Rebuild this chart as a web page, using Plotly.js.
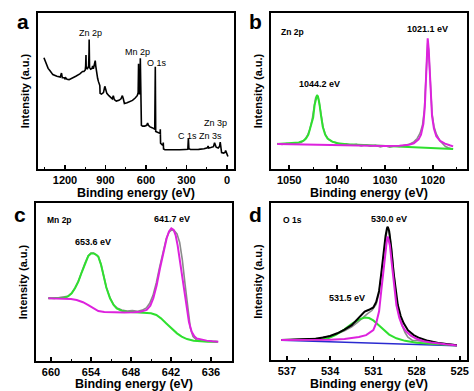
<!DOCTYPE html>
<html>
<head>
<meta charset="utf-8">
<script src="https://cdn.plot.ly/plotly-3.0.1.min.js"></script>
<style>html,body{margin:0;padding:0;background:#fff;}#chart{width:474px;height:391px;}</style>
</head>
<body>
<div id="chart"></div>
<script>
// ---- Panel a: survey spectrum ----
var surveyBE = [1356,1340,1325,1311,1290,1260,1235,1226,1220,1205,1200,1195,1185,1170,1150,1120,1090,1070,1060,1050,1047,1044.5,1043,1035,1025,1022,1021,1020,1018,1010,1000,995,990,985,980,976,972,965,958,952,946,942,940,930,915,905,898,890,875,860,850,842,835,820,800,785,775,768,760,740,720,700,680,665,658,655,653,648,644,642,640,638,634,625,610,595,588,582,570,555,545,535,531,528,515,500,496,494,492,480,474,472,470,460,430,400,350,310,290,286,282,270,240,210,170,145,140,135,120,100,92,88,80,65,55,50,46,40,25,15,10,6,0,-7];
var surveyI  = [71.3,67,64.5,63,60.5,59.5,59,61.5,58.5,58.5,57.8,58.5,57.5,57.3,58,59.5,61,62.5,62.5,63.5,66,73,65,64,66,75,83,75,65,64,64.5,66,64.2,66,68,69.5,66,61,58,56,55,53.5,48.5,48,49,53,51,48.5,47,45.5,45,47,44.5,43.5,44,45,47,45,42,42.5,43,44,45.5,47,49,67.5,49,48,50,71,48,45,28,27.5,27.5,28,29.5,28,27,26.5,26,25.5,65.6,24,23.5,23,22.8,25.5,16.5,15.5,15.2,17,12.8,12.3,12.2,12.2,12.3,12.5,12.6,19.7,13,12.5,12.5,12.6,13,13.6,14.8,13.5,13.8,14.3,16.8,15.2,14,13.5,14.5,17.3,13,10.5,10.2,10.6,11.8,10.5,9,8];

// ---- Panel b: Zn 2p ----
var znDataBE = [1052.5,1051.5,1050.5,1049.5,1048.5,1047.5,1046.8,1046.2,1045.7,1045.2,1044.8,1044.5,1044.2,1043.9,1043.6,1043.3,1042.9,1042.4,1041.8,1041,1040,1039,1038,1037,1036,1035,1034,1033,1032,1031,1030,1029,1028,1027,1026,1025,1024,1023.3,1022.7,1022.2,1021.8,1021.5,1021.3,1021.1,1020.9,1020.7,1020.5,1020.2,1019.8,1019.3,1018.6,1018,1017.4,1016.8,1016.2,1015.8];
var znDataI  = [16.3,15.7,16.4,15.9,16.6,17.0,18.6,21.5,25.5,32,40,45.5,47,45,40,33,26.5,21.8,19,17.4,16.8,15.6,16.2,15.3,15.9,14.8,15.5,14.6,15.2,14.2,14.9,14.0,14.7,14.5,15.4,15.8,17.4,19.6,23,28,38,54,72,81,76,63,49,36,27.5,22.5,18.3,16.0,14.4,13.6,13.0,12.7];
var zn12BE = [1052.5,1050,1048,1047,1046.5,1046,1045.5,1045,1044.7,1044.4,1044.2,1044,1043.7,1043.4,1043,1042.5,1042,1041,1040,1038,1035,1030,1025,1022,1020,1018,1015.8];
var zn12I  = [16.0,16.3,17.0,18.2,19.5,22,27,33,41,46.5,47.4,46.5,42,35,27,22,19.5,17.5,16.5,15.8,15.4,14.8,14.1,13.7,13.4,13.1,12.8];
var zn32BE = [1052.5,1048,1044,1040,1035,1030,1027,1025,1024,1023,1022.5,1022,1021.7,1021.5,1021.3,1021.1,1020.9,1020.7,1020.5,1020.2,1019.8,1019.3,1018.5,1017.5,1016.5,1015.8];
var zn32I  = [16.0,15.7,15.5,15.3,15.0,14.8,14.9,15.5,16.5,19,22,29,40,55,75,83.8,77,62,47,34,26,21,18,16.3,15.2,14.5];

// ---- Panel c: Mn 2p ----
var mnDataBE = [660.4,659.5,658.5,657.5,656.9,656.4,655.9,655.4,654.9,654.4,654,653.6,653.2,652.9,652.5,652.15,651.7,651.15,650.6,650.1,649.4,648.6,647.8,647,646.3,645.7,645.2,644.7,644.2,643.7,643.2,642.7,642.3,641.9,641.5,641.1,640.7,640.3,639.9,639.5,639.1,638.7,638.2,637.5,636.6,635.8,635];
var mnDataI  = [39.9,39.6,40.3,40.9,43,46.3,50.5,56.4,62,66.7,68.3,68.3,67.3,66.2,61.2,54.6,46.7,40,35.4,33.6,32.3,31.6,31.9,31.5,32.2,33.6,36.5,41.5,49.5,59.5,69.5,77.5,81.5,83,82.5,80.5,75,64,49,33.5,21,15.5,13.5,12.8,12.5,12.3,12.1];
var mn12BE = [660.4,659,658,657.4,656.9,656.4,655.9,655.4,654.9,654.4,654.0,653.6,653.2,652.9,652.5,652.15,651.7,651.15,650.6,650.15,649.4,648.6,647,646,645,644.2,643.5,642.7,641.9,641.1,640.4,639.6,638.6,637.6,636.5,635];
var mn12I  = [39.7,40,40.1,41,42.8,46,50.2,56,61.8,66.5,68,68.1,67.2,66,61,54.4,46.5,39.7,35.5,33.3,31.8,31.2,30.9,30.8,30.2,29.1,27,23.8,20.5,17.5,15.4,13.9,12.8,12.3,12.2,12.2];
var mn32BE = [660.4,658.5,657,656.15,655.2,654.4,653.6,652.9,652,651,649,647.6,646.6,645.65,645.1,644.65,644.15,643.65,643.15,642.65,642.3,641.95,641.6,641.3,641,640.65,640.2,639.65,639.3,638.9,638.5,638.15,637.4,636.65,635.8,634.9];
var mn32I  = [39.7,39.5,39.2,38.6,37.2,35.4,33.3,31.6,31,30.8,30.7,30.8,31.2,32.3,35,39.7,48,58.7,69,77.7,82,84,83,79.5,73,62.9,48,33.3,24.5,18.5,15.6,14.3,13.4,12.9,12.5,12.2];

// ---- Panel d: O 1s ----
var oBgBE = [537.4,525.2];
var oBgI  = [12.6,9.1];
var oDataBE = [537.4,536.5,535.5,534.8,534.2,533.6,533,532.5,532.1,531.7,531.4,531.1,530.8,530.6,530.45,530.3,530.15,530.05,529.95,529.85,529.7,529.55,529.4,529.2,529,528.8,528.6,528.3,527.8,527,526,525.2];
var oDataI  = [12.6,13.1,13.2,13.9,14.8,16.4,18.6,21.2,24,27.5,29.6,31.5,35.5,43,54,67,78,83,83.5,79,67,52,39,29,22,17.5,14.5,12.6,12,11.5,10.4,9.5];
var oEnvBE = [537.4,536,535,534.5,534,533.5,533,532.5,532.2,531.9,531.6,531.3,531.0,530.8,530.6,530.45,530.3,530.15,530.05,530.0,529.9,529.75,529.6,529.45,529.3,529.1,528.9,528.6,528.2,527.8,527.2,526.5,526,525.2];
var oEnvI  = [12.8,13,13.6,14.3,15.3,17,19.3,22.2,25,28,30.8,32,33.5,37,44,55,68,79,84,84.9,82,71,56,44,35,28,23.5,19,15.9,14,12.2,10.8,10.2,9.4];
var oOHBE = [537.4,536,535,534.2,533.6,533,532.5,532,531.6,531.3,531,530.7,530.3,529.9,529.4,528.8,528,527,526,525.2];
var oOHI  = [12.8,12.6,12.8,13.6,16,19.5,23,25.7,27,26.7,25.2,22.7,19.2,16.2,13.8,12.2,11,10.2,9.6,9.2];
var oLatBE = [537.4,536,535,534,533,532,531.5,531,530.8,530.6,530.45,530.3,530.15,530.05,530.0,529.85,529.7,529.55,529.4,529.2,529,528.8,528.4,528,527.5,527,526.5,526,525.2];
var oLatI  = [12.8,12.7,12.7,12.9,13.4,14.6,15.8,19,23.5,31,44,58,71,77,78.6,73,60,46,35,27,22,19,15.5,13.5,12,11.2,10.5,10,9.3];

var GREEN = '#2fe02f', MAGENTA = '#dd22dd', GRAY = '#8a8a8a', BLUE = '#2a2ad0';
function tr(x, y, color, w, xa, ya) {
  return {x: x, y: y, type: 'scatter', mode: 'lines', line: {color: color, width: w},
          xaxis: xa, yaxis: ya, hoverinfo: 'skip', showlegend: false};
}
var traces = [
  tr(surveyBE, surveyI, '#000', 1.6, 'x', 'y'),
  tr(znDataBE, znDataI, GRAY, 1.5, 'x2', 'y2'),
  tr(zn12BE, zn12I, GREEN, 2, 'x2', 'y2'),
  tr(zn32BE, zn32I, MAGENTA, 2, 'x2', 'y2'),
  tr(mnDataBE, mnDataI, GRAY, 1.6, 'x3', 'y3'),
  tr(mn12BE, mn12I, GREEN, 2, 'x3', 'y3'),
  tr(mn32BE, mn32I, MAGENTA, 2, 'x3', 'y3'),
  tr(oBgBE, oBgI, BLUE, 1.6, 'x4', 'y4'),
  tr(oDataBE, oDataI, GRAY, 1.6, 'x4', 'y4'),
  tr(oOHBE, oOHI, GREEN, 2, 'x4', 'y4'),
  tr(oEnvBE, oEnvI, '#000', 2, 'x4', 'y4'),
  tr(oLatBE, oLatI, MAGENTA, 2, 'x4', 'y4')
];

var FONT = 'Liberation Sans, Arial, sans-serif';
function xax(domain, range, dtick, mdtick, anchor) {
  return {domain: domain, range: range, anchor: anchor, tick0: 0, dtick: dtick,
          ticks: 'inside', ticklen: 4, tickwidth: 1.5, tickcolor: '#000',
          minor: {ticks: 'inside', ticklen: 2, tickwidth: 1, tickcolor: '#000', dtick: mdtick},
          showline: true, mirror: true, linewidth: 2, linecolor: '#000',
          showgrid: false, zeroline: false,
          tickfont: {family: FONT, size: 11, color: '#000', weight: 'bold'},
          title: {text: 'Binding energy (eV)', standoff: 1,
                  font: {family: FONT, size: 12.5, color: '#000', weight: 'bold'}}};
}
function yax(domain, anchor) {
  return {domain: domain, range: [0, 100], anchor: anchor, showticklabels: false, ticks: '',
          showline: true, mirror: true, linewidth: 2, linecolor: '#000',
          showgrid: false, zeroline: false,
          title: {text: 'Intensity (a.u.)', standoff: 4,
                  font: {family: FONT, size: 11, color: '#000', weight: 'bold'}}};
}
function ann(text, px, py, size, bold) {
  return {text: text, xref: 'paper', yref: 'paper', x: px / 474, y: 1 - py / 391,
          xanchor: 'center', yanchor: 'middle', showarrow: false,
          font: {family: FONT, size: size, color: '#000', weight: bold ? 'bold' : 'normal'}};
}
var layout = {
  width: 474, height: 391, margin: {l: 0, r: 0, t: 0, b: 0},
  paper_bgcolor: '#fff', plot_bgcolor: '#fff', showlegend: false,
  xaxis:  xax([38/474, 234/474], [1400, -52], 300, 150, 'y'),
  yaxis:  yax([1 - 169/391, 1 - 13/391], 'x'),
  xaxis2: xax([271/474, 467/474], [1053.8, 1012.9], 10, 5, 'y2'),
  yaxis2: yax([1 - 169/391, 1 - 13/391], 'x2'),
  xaxis3: xax([36/474, 232/474], [662.25, 632.85], 6, 3, 'y3'),
  yaxis3: yax([1 - 361/391, 1 - 203/391], 'x3'),
  xaxis4: xax([271/474, 467/474], [538.1, 524.5], 3, 1.5, 'y4'),
  yaxis4: yax([1 - 360/391, 1 - 203/391], 'x4'),
  annotations: [
    ann('a', 23, 22, 21, true), ann('b', 255, 22, 21, true),
    ann('c', 20, 214, 21, true), ann('d', 255, 214, 21, true),
    ann('Zn 2p', 90, 33, 9, false), ann('Mn 2p', 137, 52, 9, false),
    ann('O 1s', 157, 63, 9, false), ann('C 1s', 187, 136, 9, false),
    ann('Zn 3p', 215, 123, 9, false), ann('Zn 3s', 210, 136, 9, false),
    ann('Zn 2p', 292, 32, 8.5, true), ann('1021.1 eV', 427, 29, 9, true),
    ann('1044.2 eV', 319, 84, 9, true),
    ann('Mn 2p', 59, 220, 8.5, true), ann('641.7 eV', 172, 219, 9, true),
    ann('653.6 eV', 93, 242, 9, true),
    ann('O 1s', 292, 220, 8.5, true), ann('530.0 eV', 389, 219, 9, true),
    ann('531.5 eV', 347, 298, 9, true)
  ]
};
Plotly.newPlot('chart', traces, layout, {staticPlot: true, displayModeBar: false});
</script>
</body>
</html>
